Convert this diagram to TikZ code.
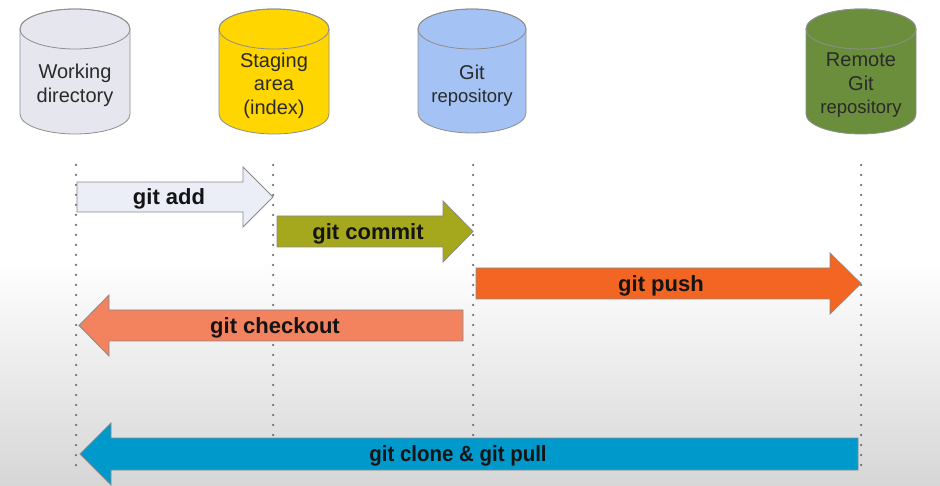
\documentclass[tikz,border=0pt]{standalone}
\usepackage{fontspec}
\setmainfont{Liberation Sans}
\definecolor{cylline}{HTML}{8E8E8E}
\definecolor{arrline}{HTML}{8A8A8A}
\definecolor{textgray}{HTML}{2A2A2A}
\definecolor{dotgray}{HTML}{6E6E6E}
\definecolor{bggray}{HTML}{D6D6D6}
\definecolor{wdfill}{HTML}{E6E6EF}
\definecolor{stagefill}{HTML}{FFD600}
\definecolor{gitfill}{HTML}{A4C2F4}
\definecolor{remotefill}{HTML}{6A8E3C}
\definecolor{addfill}{HTML}{EBEDF7}
\definecolor{commitfill}{HTML}{A5A71C}
\definecolor{pushfill}{HTML}{F26522}
\definecolor{checkoutfill}{HTML}{F3825F}
\definecolor{clonefill}{HTML}{0099CC}
\newcommand\mycyl[6]{% cx, rx, top, bottom, ry, fill
  \filldraw[cyl, fill=#6] (#1-#2,#3+#5) -- (#1-#2,#4-#5)
    arc[start angle=180, end angle=0, x radius=#2, y radius=#5]
    -- (#1+#2,#3+#5)
    arc[start angle=0, end angle=-180, x radius=#2, y radius=#5] -- cycle;
  \draw[cyl] (#1,#3+#5) ellipse[x radius=#2, y radius=#5];
}
\begin{document}
\begin{tikzpicture}[x=1pt,y=-1pt,
  cyl/.style={draw=cylline, line width=0.8pt},
  blockarrow/.style={draw=arrline, line width=0.8pt},
  cyltext/.style={text=textgray, align=center, font=\fontsize{20}{23.5}\selectfont, inner sep=0pt},
  arrtext/.style={text=black!92, font=\fontsize{22}{26}\selectfont\bfseries, inner sep=0pt},
  guide/.style={draw=dotgray, line width=2.5pt, line cap=round, dash pattern=on 0pt off 10pt}]

\useasboundingbox (0,0) rectangle (940,486);
\fill[white] (0,0) rectangle (940,486);
\shade[top color=white, bottom color=bggray] (0,260) rectangle (940,486);

% cylinders
\mycyl{75}{55}{9}{134}{20}{wdfill}
\mycyl{274}{55}{9}{134}{20}{stagefill}
\mycyl{472}{54}{9}{133}{20}{gitfill}
\mycyl{861}{55}{9}{134}{20}{remotefill}

\node[cyltext] (wd) at (75,85.5) {Working\\directory};
\node[cyltext] (stage) at (274,85.5) {Staging\\area\\(index)};
\node[cyltext] (git) at (472,85.5) {Git\\{\fontsize{18.5}{22}\selectfont repository}};
\node[cyltext] (remote) at (861,85.5) {Remote\\Git\\{\fontsize{18.5}{22}\selectfont repository}};

% guide lines
\coordinate (g1t) at (76,165); \coordinate (g1b) at (76,475);
\coordinate (g2t) at (273,165); \coordinate (g2b) at (273,475);
\coordinate (g3t) at (473,165); \coordinate (g3b) at (473,475);
\coordinate (g4t) at (861,165); \coordinate (g4b) at (861,475);
\draw[guide] (g1t) -- (g1b);
\draw[guide] (g2t) -- (g2b);
\draw[guide] (g3t) -- (g3b);
\draw[guide] (g4t) -- (g4b);

% block arrows
\filldraw[blockarrow, fill=addfill] (77,182) -- (243,182) -- (243,167) -- (273,197) -- (243,227) -- (243,212) -- (77,212) -- cycle;
\node[arrtext] (add) at (169,199) {git add};

\filldraw[blockarrow, fill=commitfill] (277,216) -- (443,216) -- (443,201) -- (473,231.5) -- (443,262) -- (443,247) -- (277,247) -- cycle;
\node[arrtext] (commit) at (368,233.5) {git commit};

\filldraw[blockarrow, fill=pushfill] (476,268) -- (830,268) -- (830,253) -- (861,283.5) -- (830,314) -- (830,299) -- (476,299) -- cycle;
\node[arrtext] (push) at (661,286) {git push};

\filldraw[blockarrow, fill=checkoutfill] (463,310) -- (109,310) -- (109,295) -- (79,325.5) -- (109,356) -- (109,341) -- (463,341) -- cycle;
\node[arrtext] (checkout) at (275,327.5) {git checkout};

\filldraw[blockarrow, fill=clonefill] (858,438) -- (111,438) -- (111,423) -- (80,454) -- (111,485) -- (111,470) -- (858,470) -- cycle;
\node[arrtext] (clone) at (458,456) {\scalebox{0.93}[1]{git clone \& git pull}};
\end{tikzpicture}
\end{document}
